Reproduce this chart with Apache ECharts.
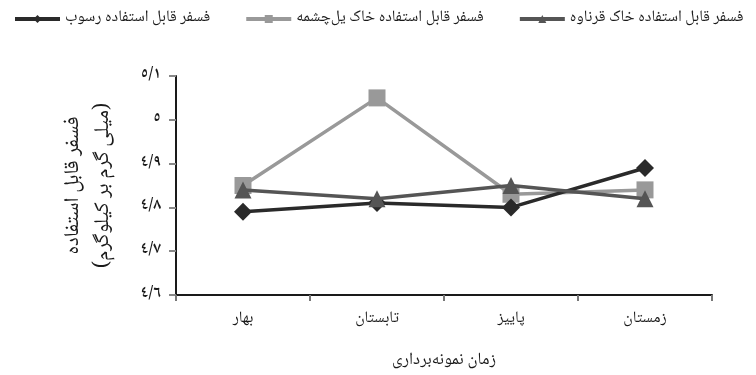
<!DOCTYPE html>
<html>
<head>
<meta charset="utf-8">
<script src="https://cdn.jsdelivr.net/npm/echarts@6/dist/echarts.min.js"></script>
<style>
  html, body { margin: 0; padding: 0; background: #fff; }
  #chart { width: 756px; height: 375px; }
</style>
</head>
<body>
<div id="chart"></div>
<script>
// Sampling seasons (category axis)
const seasons = ['بهار', 'تابستان', 'پاییز', 'زمستان'];

// Available phosphorus (mg/kg) per season
const sediment = [4.79, 4.81, 4.80, 4.89];        // رسوب
const soilYelcheshmeh = [4.85, 5.05, 4.83, 4.84]; // خاک یل‌چشمه
const soilGhernaveh = [4.84, 4.82, 4.85, 4.82];   // خاک قرناوه

// Series names
const nameSediment = 'فسفر قابل استفاده رسوب';
const nameYelcheshmeh = 'فسفر قابل استفاده خاک یل‌چشمه';
const nameGhernaveh = 'فسفر قابل استفاده خاک قرناوه';

// Y tick labels (Arabic-Indic digits, slash as decimal mark)
const yTickLabels = ['٤/٦', '٤/٧', '٤/٨', '٤/٩', '٥', '٥/١'];

const font = '"Noto Naskh Arabic", "DejaVu Sans", serif';
const ink = '#1a1a1a';

const chart = echarts.init(document.getElementById('chart'), null, { renderer: 'canvas' });

chart.setOption({
  animation: false,
  textStyle: { fontFamily: font },
  legend: {
    data: [nameSediment, nameYelcheshmeh, nameGhernaveh],
    left: 8,
    top: 6,
    itemWidth: 45,
    itemHeight: 10,
    itemGap: 34,
    lineStyle: { width: 4 },
    textStyle: { fontFamily: font, fontSize: 16, color: ink }
  },
  grid: { left: 176, right: 44, top: 76, bottom: 78, containLabel: false },
  xAxis: {
    type: 'category',
    data: seasons,
    boundaryGap: true,
    name: 'زمان نمونه‌برداری',
    nameLocation: 'middle',
    nameGap: 58,
    nameTextStyle: { fontFamily: font, fontSize: 17, color: ink },
    axisLine: { lineStyle: { color: ink, width: 2 } },
    axisTick: { show: true, length: 6, lineStyle: { color: '#777', width: 2 } },
    axisLabel: { fontFamily: font, fontSize: 16, color: ink, margin: 17 }
  },
  yAxis: {
    type: 'value',
    min: 4.6,
    max: 5.1,
    interval: 0.1,
    name: 'فسفر قابل استفاده\n(میلی گرم بر کیلوگرم)',
    nameLocation: 'middle',
    nameRotate: 90,
    nameGap: 56,
    nameTextStyle: { fontFamily: font, fontSize: 21, color: ink, lineHeight: 30 },
    splitLine: { show: false },
    axisLine: { show: true, lineStyle: { color: ink, width: 2 } },
    axisTick: { show: true, length: 7, lineStyle: { color: '#888', width: 2 } },
    axisLabel: {
      fontFamily: font, fontSize: 16, fontWeight: 'bold', color: ink, margin: 15,
      formatter: (v, i) => yTickLabels[i]
    }
  },
  series: [
    {
      name: nameYelcheshmeh,
      type: 'line',
      data: soilYelcheshmeh,
      symbol: 'rect',
      symbolSize: 17,
      z: 2,
      lineStyle: { color: '#999999', width: 3.5 },
      itemStyle: { color: '#999999' }
    },
    {
      name: nameSediment,
      type: 'line',
      data: sediment,
      symbol: 'diamond',
      symbolSize: 18,
      z: 3,
      lineStyle: { color: '#2a2a2a', width: 3.5 },
      itemStyle: { color: '#2a2a2a' }
    },
    {
      name: nameGhernaveh,
      type: 'line',
      data: soilGhernaveh,
      symbol: 'triangle',
      symbolSize: 17,
      z: 4,
      lineStyle: { color: '#555555', width: 3.5 },
      itemStyle: { color: '#555555' }
    }
  ]
});
</script>
</body>
</html>
